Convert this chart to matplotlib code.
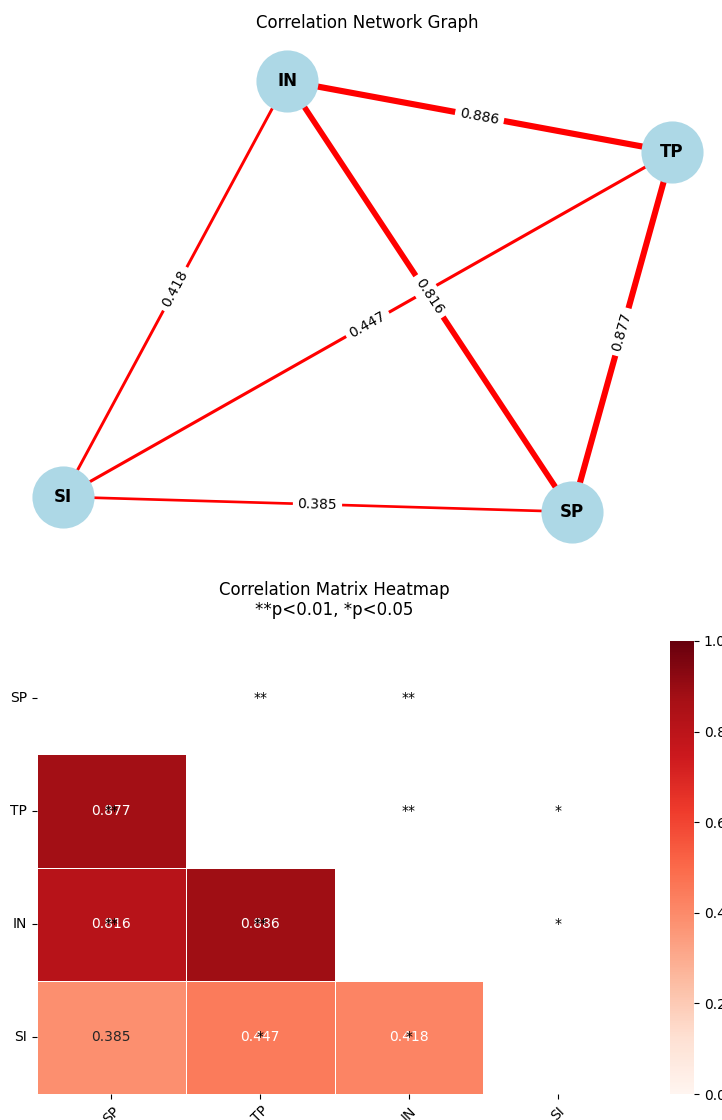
import numpy as np
import pandas as pd
import matplotlib
matplotlib.use("Agg")
import matplotlib.pyplot as plt
import seaborn as sns

# ---- data ----
variables = ["SP", "TP", "IN", "SI"]
# pairwise correlations (upper triangle, row-major order)
pairs = [("SP", "TP"), ("SP", "IN"), ("SP", "SI"), ("TP", "IN"), ("TP", "SI"), ("IN", "SI")]
pair_r = [0.877, 0.816, 0.385, 0.886, 0.447, 0.418]
pair_sig = ["**", "**", "", "**", "*", "*"]

# network layout (spring-layout like coordinates)
layout = {"IN": (-0.225, 0.834), "TP": (0.859, 0.559), "SI": (-0.856, -0.775), "SP": (0.577, -0.833)}

# ---- build matrices ----
n = len(variables)
idx = {v: i for i, v in enumerate(variables)}
corr = np.eye(n)
sig = np.full((n, n), "", dtype=object)
for (a, b), r, s in zip(pairs, pair_r, pair_sig):
    corr[idx[a], idx[b]] = corr[idx[b], idx[a]] = r
    sig[idx[a], idx[b]] = sig[idx[b], idx[a]] = s
corr_df = pd.DataFrame(corr, index=variables, columns=variables)

W, H = 722, 1120
fig = plt.figure(figsize=(W / 100, H / 100), dpi=100)

def px_axes(x0, y0, x1, y1):
    return fig.add_axes([x0 / W, 1 - y1 / H, (x1 - x0) / W, (y1 - y0) / H])

# ---- network graph ----
ax1 = px_axes(12, 38, 722, 555)
ax1.set_xlim(-1, 1)
ax1.set_ylim(-1, 1)
ax1.axis("off")
ax1.set_title("Correlation Network Graph", fontsize=12, pad=7.5)

for (a, b), r in zip(pairs, pair_r):
    (xa, ya), (xb, yb) = layout[a], layout[b]
    ax1.plot([xa, xb], [ya, yb], color="red", lw=abs(r) * 5, zorder=1, solid_capstyle="butt")

fig.canvas.draw()
for (a, b), r in zip(pairs, pair_r):
    (xa, ya), (xb, yb) = layout[a], layout[b]
    pa = ax1.transData.transform((xa, ya))
    pb = ax1.transData.transform((xb, yb))
    ang = np.degrees(np.arctan2(pb[1] - pa[1], pb[0] - pa[0]))
    if ang > 90:
        ang -= 180
    if ang < -90:
        ang += 180
    ax1.text((xa + xb) / 2, (ya + yb) / 2, f"{r:.3f}", fontsize=10, color="k",
             rotation=ang, rotation_mode="anchor", ha="center", va="center", zorder=2,
             bbox=dict(boxstyle="round", ec=(1, 1, 1), fc=(1, 1, 1)))

xs = [layout[v][0] for v in variables]
ys = [layout[v][1] for v in variables]
ax1.scatter(xs, ys, s=2000, c="lightblue", zorder=3, linewidths=0)
for v in variables:
    ax1.text(layout[v][0], layout[v][1], v, fontsize=12, fontweight="bold",
             ha="center", va="center", zorder=4)

# ---- heatmap ----
ax2 = px_axes(37, 641, 632, 1094)
cax = px_axes(670, 641, 694, 1094)
mask = np.triu(np.ones_like(corr, dtype=bool))
sns.heatmap(corr_df, mask=mask, annot=True, fmt=".3f", cmap="Reds", vmin=0, vmax=1,
            linewidths=0.5, linecolor="white", ax=ax2, cbar_ax=cax,
            annot_kws={"fontsize": 10})
for i in range(n):
    for j in range(n):
        if i != j and sig[i, j]:
            ax2.text(j + 0.5, i + 0.5, sig[i, j], ha="center", va="center",
                     color="black", fontsize=10)
ax2.set_title("Correlation Matrix Heatmap\n**p<0.01, *p<0.05", fontsize=12, pad=18.5)
ax2.set_yticklabels(variables, rotation=0)
ax2.set_xticklabels(variables, rotation=45)

fig.savefig("out.png", dpi=100)
